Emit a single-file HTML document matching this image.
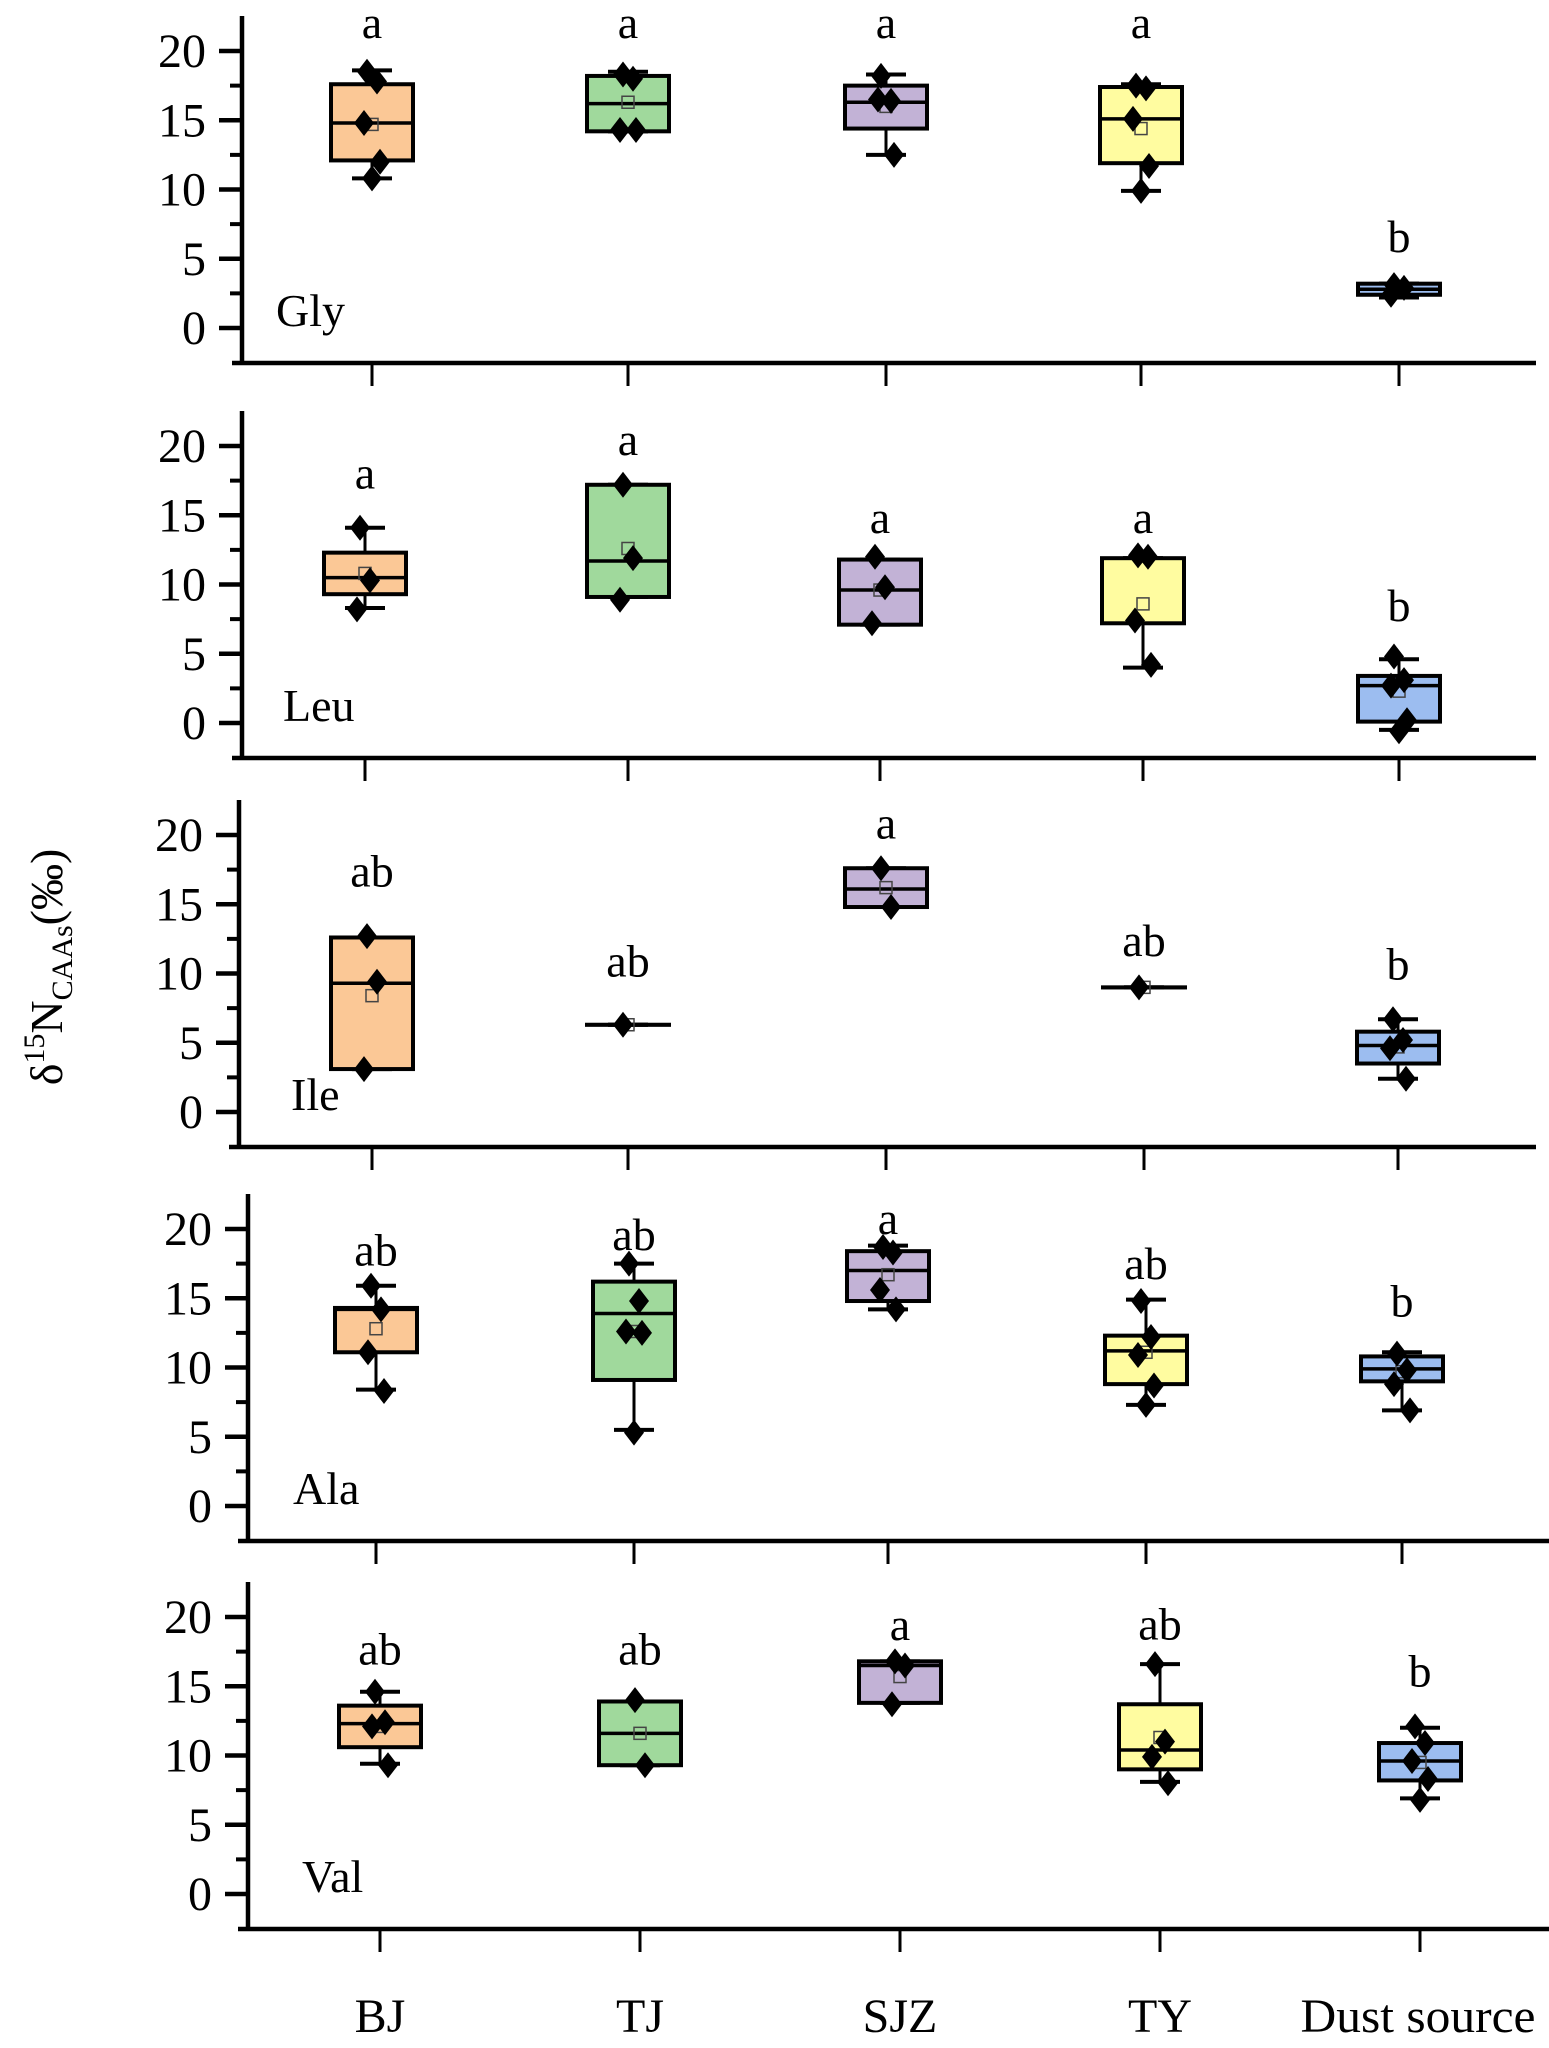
<!DOCTYPE html>
<html><head><meta charset="utf-8"><style>
html,body{margin:0;padding:0;background:#fff;}
svg{display:block;font-family:"Liberation Serif",serif;}
</style></head><body>
<svg id="chart" width="1549" height="2048" viewBox="0 0 1549 2048" xmlns="http://www.w3.org/2000/svg">
<text transform="translate(62,967) rotate(-90)" text-anchor="middle" font-size="46">δ<tspan font-size="30" dy="-18">15</tspan><tspan dy="18">N</tspan><tspan font-size="30" dy="10">CAAs</tspan><tspan dy="-10">(‰)</tspan></text>
</svg>
<script>
const categories = ["BJ","TJ","SJZ","TY","Dust source"];
const panelNames = ["Gly","Leu","Ile","Ala","Val"];
const yTicks = [0,5,10,15,20];
const yMinorTicks = [2.5,7.5,12.5,17.5];
// [q1, median, q3, whiskerLow, whiskerHigh, mean] per category
const glyBoxes = [[12.1,14.8,17.6,10.8,18.6,14.7],[14.2,16.2,18.2,14.2,18.5,16.3],[14.4,16.3,17.5,12.5,18.3,16.0],[11.9,15.1,17.4,9.9,17.6,14.4],[2.4,2.8,3.2,2.2,3.2,2.8]];
const leuBoxes = [[9.3,10.5,12.3,8.3,14.1,10.8],[9.1,11.7,17.2,9.1,17.2,12.6],[7.1,9.6,11.8,7.1,11.8,9.6],[7.2,7.2,11.9,4.0,11.9,8.6],[0.1,2.7,3.4,-0.5,4.6,2.3]];
const ileBoxes = [[3.1,9.3,12.6,3.1,12.6,8.4],[6.3,6.3,6.3,6.3,6.3,6.3],[14.8,16.1,17.6,14.8,17.6,16.2],[9.0,9.0,9.0,9.0,9.0,9.0],[3.5,4.8,5.8,2.4,6.7,4.7]];
const alaBoxes = [[11.1,14.2,14.3,8.4,15.9,12.8],[9.1,13.9,16.2,5.5,17.5,12.6],[14.8,17.0,18.4,14.2,18.8,16.7],[8.8,11.2,12.3,7.3,14.9,11.1],[9.0,9.9,10.8,6.9,11.1,9.7]];
const valBoxes = [[10.6,12.3,13.6,9.4,14.6,12.1],[9.3,11.6,13.9,9.3,13.9,11.6],[13.8,16.5,16.8,13.8,16.8,15.7],[9.0,10.4,13.7,8.1,16.6,11.3],[8.2,9.6,10.9,6.9,12.0,9.5]];
const glyPoints = [[18.5,17.8,14.8,12.0,10.8],[18.3,18.0,14.3,14.3],[18.2,16.4,16.5,12.5],[17.5,17.3,15.1,11.7,9.9],[3.1,2.9,2.4]];
const leuPoints = [[14.1,10.3,8.2],[17.2,11.9,8.9],[12.0,9.8,7.2],[12.1,12.0,7.4,4.2],[4.8,3.1,2.7,0.2,-0.6]];
const ilePoints = [[12.7,9.4,3.1],[6.3],[17.6,14.8],[9.0],[6.7,5.2,4.6,2.4]];
const alaPoints = [[15.9,14.2,11.1,8.3],[17.5,14.8,12.6,12.5,5.3],[18.7,18.3,15.6,14.2],[14.8,12.2,10.9,8.7,7.3],[11.0,9.8,8.8,6.9]];
const valPoints = [[14.6,12.4,12.1,9.3],[14.0,9.3],[16.8,16.5,13.7],[16.6,11.0,9.9,8.0],[12.1,10.9,9.6,8.3,6.8]];
const glyLetters = ["a","a","a","a","b"];
const leuLetters = ["a","a","a","a","b"];
const ileLetters = ["ab","ab","a","ab","b"];
const alaLetters = ["ab","ab","a","ab","b"];
const valLetters = ["ab","ab","a","ab","b"];
const glyLetterY = [21.8,21.8,21.8,21.8,6.7];
const leuLetterY = [17.8,20.2,14.6,14.6,8.6];
const ileLetterY = [17.5,11.0,20.6,12.5,10.8];
const alaLetterY = [18.6,19.7,20.5,17.6,14.9];
const valLetterY = [17.8,17.8,19.2,19.6,16.2];

const allBoxes=[glyBoxes,leuBoxes,ileBoxes,alaBoxes,valBoxes];
const allPoints=[glyPoints,leuPoints,ilePoints,alaPoints,valPoints];
const allLetters=[glyLetters,leuLetters,ileLetters,alaLetters,valLetters];
const allLetterY=[glyLetterY,leuLetterY,ileLetterY,alaLetterY,valLetterY];
const fills=["#FBC896","#A0D99C","#C2B2D6","#FFFCA0","#9CBDF0"];
const layout=[
 {y0:328,ax:242,right:1536,cx:[372,628,886,1141,1399],lx:276},
 {y0:723,ax:242,right:1536,cx:[365,628,880,1143,1399],lx:283},
 {y0:1112,ax:239,right:1536,cx:[372,628,886,1144,1398],lx:291},
 {y0:1506,ax:248,right:1549,cx:[376,634,888,1146,1402],lx:293},
 {y0:1894,ax:248,right:1549,cx:[380,640,900,1160,1420],lx:302}];
const PPU=13.85;
const NS="http://www.w3.org/2000/svg";
const svg=document.getElementById('chart');
function mk(tag,attrs,parent){const e=document.createElementNS(NS,tag);for(const k in attrs)e.setAttribute(k,attrs[k]);(parent||svg).appendChild(e);return e;}
allBoxes.forEach((boxes,p)=>{
 const L=layout[p];
 const yS=v=>L.y0-v*PPU;
 const g=mk('g',{});
 
 
 const top=L.y0-312,bot=L.y0+35;
 const ya=mk('line',{x1:L.ax,y1:top,x2:L.ax,y2:bot+2,stroke:'#000','stroke-width':4.5},g);
 
 
 const xa=mk('line',{x1:L.ax-10,y1:bot,x2:L.right,y2:bot,stroke:'#000','stroke-width':4.5},g);
 
 
 yTicks.forEach(t=>{
  const tk=mk('line',{x1:L.ax-23,y1:yS(t),x2:L.ax,y2:yS(t),stroke:'#000','stroke-width':4.5},g);
  
  
  const tl=mk('text',{x:L.ax-36,y:yS(t)+16,'text-anchor':'end','font-size':48},g);
  
  
  tl.textContent=t;
 });
 yMinorTicks.forEach(t=>{
  const tk=mk('line',{x1:L.ax-12,y1:yS(t),x2:L.ax,y2:yS(t),stroke:'#000','stroke-width':4},g);
  
  
 });
 L.cx.forEach(x=>{
  const tk=mk('line',{x1:x,y1:bot,x2:x,y2:bot+23,stroke:'#000','stroke-width':3},g);
  
  
 });
 const pl=mk('text',{x:L.lx,y:L.y0-2,'font-size':46},g);
 
 
 pl.textContent=panelNames[p];
 boxes.forEach((b,i)=>{
  const x=L.cx[i],hw=41,cw=20;
  const bg=mk('g',{},g);
  
  
  mk('line',{x1:x,y1:yS(b[3]),x2:x,y2:yS(b[4]),stroke:'#000','stroke-width':3},bg);
  mk('line',{x1:x-cw,y1:yS(b[3]),x2:x+cw,y2:yS(b[3]),stroke:'#000','stroke-width':4},bg);
  mk('line',{x1:x-cw,y1:yS(b[4]),x2:x+cw,y2:yS(b[4]),stroke:'#000','stroke-width':4},bg);
  mk('rect',{x:x-hw,y:yS(b[2]),width:2*hw,height:Math.max(0.1,yS(b[0])-yS(b[2])),fill:fills[i],stroke:'#000','stroke-width':4},bg);
  mk('line',{x1:x-hw,y1:yS(b[1]),x2:x+hw,y2:yS(b[1]),stroke:'#000','stroke-width':3.5},bg);
  mk('rect',{x:x-6,y:yS(b[5])-6,width:12,height:12,fill:'none',stroke:'#444','stroke-width':1.5},bg);
  allPoints[p][i].forEach((v,k)=>{
   const dx=[-5,5,-8,8,0][k%5];
   const px=x+dx,py=yS(v);
   const d=mk('path',{d:`M${px} ${py-13}L${px+10} ${py}L${px} ${py+13}L${px-10} ${py}Z`,fill:'#000'},bg);
   
   
  });
  const lt=allLetters[p][i];
  const t=mk('text',{x:x,y:yS(allLetterY[p][i])+(lt==='a'?12:17),'text-anchor':'middle','font-size':46},g);
  
  
  t.textContent=lt;
 });
});
categories.forEach((c,i)=>{
 const attrs={x:layout[4].cx[i],y:2032,'text-anchor':'middle','font-size':48};
 if(i===4){attrs.textLength=235;attrs.lengthAdjust='spacingAndGlyphs';attrs.x=1418;}
 const t=mk('text',attrs);
 
 
 t.textContent=c;
});
</script>
</body></html>
